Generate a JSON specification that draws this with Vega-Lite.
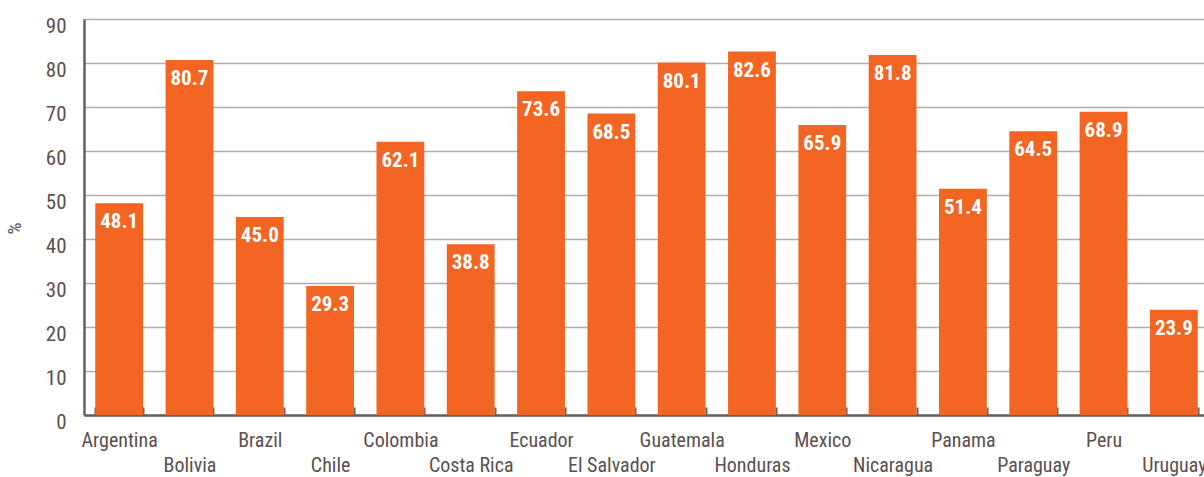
{
  "$schema": "https://vega.github.io/schema/vega-lite/v6.json",
  "width": 1125,
  "height": 396,
  "autosize": {"type": "none"},
  "padding": {"left": 84, "top": 19, "right": 0, "bottom": 62},
  "background": "white",
  "data": {
    "values": [
      {"country": "Argentina", "value": 48.1},
      {"country": "Bolivia", "value": 80.7},
      {"country": "Brazil", "value": 45.0},
      {"country": "Chile", "value": 29.3},
      {"country": "Colombia", "value": 62.1},
      {"country": "Costa Rica", "value": 38.8},
      {"country": "Ecuador", "value": 73.6},
      {"country": "El Salvador", "value": 68.5},
      {"country": "Guatemala", "value": 80.1},
      {"country": "Honduras", "value": 82.6},
      {"country": "Mexico", "value": 65.9},
      {"country": "Nicaragua", "value": 81.8},
      {"country": "Panama", "value": 51.4},
      {"country": "Paraguay", "value": 64.5},
      {"country": "Peru", "value": 68.9},
      {"country": "Uruguay", "value": 23.9}
    ]
  },
  "config": {
    "view": {"stroke": null},
    "font": "Roboto Condensed, Liberation Sans Narrow, DejaVu Sans Condensed, Roboto"
  },
  "encoding": {
    "x": {
      "field": "country",
      "type": "nominal",
      "sort": null,
      "scale": {"paddingInner": 0.32, "paddingOuter": 0.16},
      "axis": {
        "title": null,
        "labelAngle": 0,
        "labelFontSize": 20,
        "labelColor": "#5b4f4f",
        "labelPadding": 23,
        "labelLineHeight": 25,
        "labelExpr": "round(datum.index*15) % 2 == 1 ? ['', datum.label] : datum.label",
        "labelOverlap": false,
        "tickBand": "extent",
        "tickSize": -8,
        "tickColor": "#6b5e5e",
        "tickWidth": 2,
        "domainColor": "#6b5e5e",
        "domainWidth": 2.5,
        "grid": false
      }
    },
    "y": {
      "field": "value",
      "type": "quantitative",
      "scale": {"domain": [0, 90], "nice": false},
      "axis": {
        "title": "%",
        "titleFontSize": 19,
        "titleFontWeight": "normal",
        "titleColor": "#5b4f4f",
        "titleX": -60,
        "titleY": 209,
        "titleAlign": "center",
        "titleBaseline": "bottom",
        "values": [0, 10, 20, 30, 40, 50, 60, 70, 80, 90],
        "labelFontSize": 21,
        "labelColor": "#5b4f4f",
        "labelPadding": 18,
        "labelOffset": 7,
        "ticks": false,
        "domainColor": "#6b5e5e",
        "domainWidth": 2.5,
        "grid": true,
        "gridColor": "#b3aaaa",
        "gridWidth": 1.5
      }
    }
  },
  "layer": [
    {"mark": {"type": "bar", "color": "#F26522"}},
    {
      "mark": {
        "type": "text",
        "baseline": "top",
        "dy": 8,
        "color": "white",
        "fontWeight": "bold",
        "fontSize": 21
      },
      "encoding": {"text": {"field": "value", "type": "quantitative", "format": ".1f"}}
    }
  ]
}
